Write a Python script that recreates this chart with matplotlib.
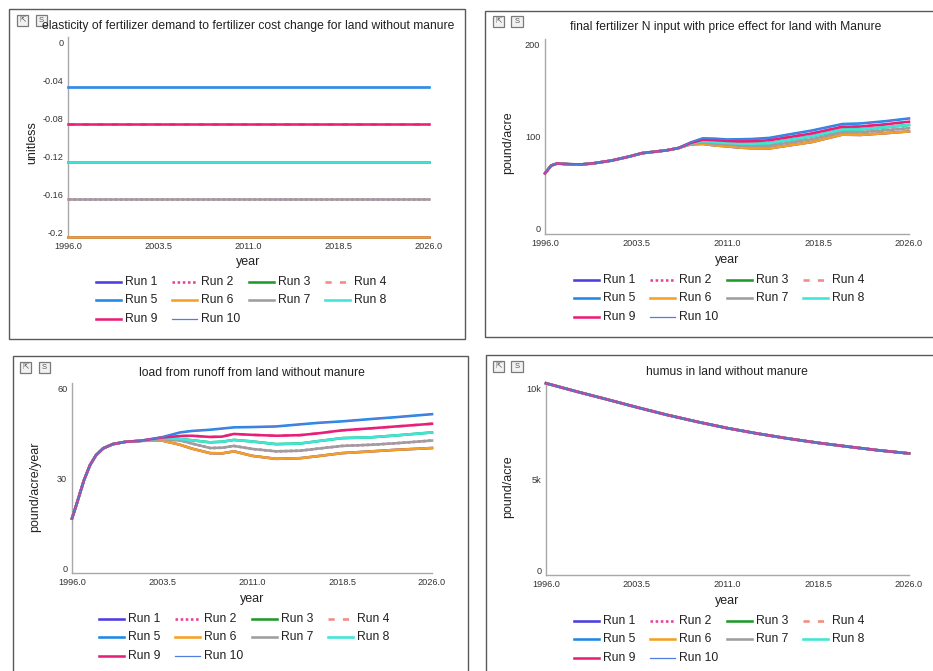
"""Four sensitivity-run panels for the fertilizer / runoff model."""

import matplotlib

matplotlib.use("Agg")
import matplotlib.pyplot as plt
import matplotlib.transforms as mtransforms
from matplotlib.lines import Line2D
from matplotlib.patches import Rectangle

plt.rcParams["font.family"] = ["Liberation Sans", "DejaVu Sans"]

W, H = 933, 671

RUN_NAMES = [f"Run {i}" for i in range(1, 11)]
RUN_COLORS = ["#4b3ddf", "#e8409a", "#1f9a2a", "#f28b82", "#1e88e5",
              "#f5a023", "#9e9e9e", "#3ee6d8", "#e91e7a", "#4f7fe0"]
RUN_STYLES = ["-", (0, (1, 1)), "-", (0, (2.4, 3.2)), "-", "-", "-", "-", "-", "-"]
RUN_WIDTHS = [1.85] * 9 + [0.9]
# runs 1-4 and 10 are hidden under the visible runs they repeat
RUN_SOURCE = {1: 6, 2: 7, 3: 8, 4: 9, 5: 5, 6: 6, 7: 7, 8: 8, 9: 9, 10: 5}

X_TICKS = [1996.0, 2003.5, 2011.0, 2018.5, 2026.0]

# elasticity of fertilizer demand (constant per run)
years_elast = [1996.0, 2026.0]
elast_run5 = [-0.042, -0.042]
elast_run6 = [-0.2, -0.2]
elast_run7 = [-0.16, -0.16]
elast_run8 = [-0.121, -0.121]
elast_run9 = [-0.081, -0.081]

# final fertilizer N input with price effect, land with manure
years_fert = [1996, 1996.5, 1997, 1998, 1999, 2000, 2001.5, 2003, 2004, 2005, 2006, 2007,
              2008, 2009, 2010, 2011, 2012, 2013, 2014.5, 2016, 2018, 2020.5, 2022, 2024, 2026]
fert_shared = [65.6, 74.0, 76.3, 75.5, 75.3, 76.5, 79.5, 84.0, 87.5, 89.0, 90.5, 93.0]
fert_run5 = fert_shared + [99.0, 103.5, 103.2, 102.3, 102.5, 102.8, 104.0, 107.5, 112.0, 119.0, 119.6, 122.0, 125.0]
fert_run9 = fert_shared + [98.5, 102.0, 101.5, 100.7, 100.2, 100.3, 101.4, 104.6, 108.8, 116.0, 116.3, 118.6, 121.5]
fert_run8 = fert_shared + [98.0, 100.5, 99.5, 98.6, 97.8, 97.5, 98.2, 101.5, 105.7, 113.0, 113.2, 115.4, 118.0]
fert_run7 = fert_shared + [97.5, 99.0, 97.6, 96.8, 95.8, 95.2, 95.5, 98.6, 102.6, 110.3, 110.2, 112.2, 114.5]
fert_run6 = fert_shared + [97.0, 97.5, 95.8, 94.8, 93.5, 92.8, 92.6, 95.6, 99.5, 107.5, 107.2, 109.0, 111.0]

# load from runoff, land without manure
years_load = [1996, 1996.4, 1997, 1997.5, 1998, 1998.6, 1999.4, 2000.5, 2001.7,
              2003.5, 2005, 2006, 2007.5, 2008.5, 2009.5, 2011, 2013, 2015, 2016.5, 2018.5, 2021, 2023, 2026]
load_shared = [18.2, 23.2, 31.0, 36.0, 39.3, 41.6, 43.0, 43.8, 44.1]
load_run5 = load_shared + [45.3, 46.9, 47.4, 47.8, 48.2, 48.6, 48.7, 48.9, 49.6, 50.1, 50.6, 51.4, 52.0, 53.0]
load_run9 = load_shared + [45.2, 45.7, 45.8, 45.4, 45.5, 46.4, 46.1, 45.8, 46.0, 46.6, 47.6, 48.3, 48.9, 49.8]
load_run8 = load_shared + [45.0, 44.7, 44.3, 43.6, 43.8, 44.4, 43.9, 43.0, 43.2, 44.0, 45.0, 45.3, 45.9, 46.9]
load_run7 = load_shared + [44.7, 44.2, 43.2, 41.7, 41.8, 42.4, 41.4, 40.6, 40.8, 41.5, 42.4, 42.8, 43.3, 44.2]
load_run6 = load_shared + [44.2, 42.8, 41.5, 40.0, 39.9, 40.6, 39.1, 38.1, 38.3, 39.0, 40.0, 40.6, 41.1, 41.7]

# humus in land without manure (same for every run)
years_humus = [1996, 1998.5, 2001, 2003.5, 2006, 2008.5, 2011, 2013.5, 2016, 2018.5, 2021, 2023.5, 2026]
humus = [10550, 10100, 9670, 9230, 8810, 8430, 8080, 7780, 7510, 7270, 7060, 6860, 6690]


def fx(x):
    return x / W


def fy(y):
    return 1 - y / H


def runs_from(years, by_run):
    return {i: (years, by_run[RUN_SOURCE[i]]) for i in range(1, 11)}


panels = [
    dict(
        title="elasticity of fertilizer demand to fertilizer cost change for land without manure",
        ylabel="unitless",
        runs=runs_from(years_elast, {5: elast_run5, 6: elast_run6, 7: elast_run7, 8: elast_run8, 9: elast_run9}),
        yticks=[0, -0.04, -0.08, -0.12, -0.16, -0.2],
        yticklabels=["0", "-0.04", "-0.08", "-0.12", "-0.16", "-0.2"],
        ylim=(-0.2, 0.011),
        box=(9, 9, 465, 339), axes=(68, 37, 429, 237),
        title_xy=(248, 26), xlabel_xy=(248, 262), ylabel_xy=(32, 143),
        legend_xy=(96, 282), icons_xy=(17, 15),
    ),
    dict(
        title="final fertilizer N input with price effect for land with Manure",
        ylabel="pound/acre",
        runs=runs_from(years_fert, {5: fert_run5, 6: fert_run6, 7: fert_run7, 8: fert_run8, 9: fert_run9}),
        yticks=[0, 100, 200], yticklabels=["0", "100", "200"],
        ylim=(0, 211),
        box=(485, 11, 945, 337), axes=(545, 39, 909, 234),
        title_xy=(726, 27), xlabel_xy=(727, 260), ylabel_xy=(508, 143),
        legend_xy=(574, 280), icons_xy=(493, 16),
    ),
    dict(
        title="load from runoff from land without manure",
        ylabel="pound/acre/year",
        runs=runs_from(years_load, {5: load_run5, 6: load_run6, 7: load_run7, 8: load_run8, 9: load_run9}),
        yticks=[0, 30, 60], yticklabels=["0", "30", "60"],
        ylim=(0, 63.4),
        box=(13, 356, 468, 690), axes=(72, 383, 432, 573),
        title_xy=(252, 373), xlabel_xy=(252, 599), ylabel_xy=(35, 487),
        legend_xy=(99, 619), icons_xy=(20, 362),
    ),
    dict(
        title="humus in land without manure",
        ylabel="pound/acre",
        runs={i: (years_humus, humus) for i in range(1, 11)},
        yticks=[0, 5000, 10000], yticklabels=["0", "5k", "10k"],
        ylim=(0, 10620),
        box=(486, 355, 945, 690), axes=(546, 382, 909, 575),
        title_xy=(727, 372), xlabel_xy=(727, 601), ylabel_xy=(508, 487),
        legend_xy=(574, 621), icons_xy=(493, 361),
    ),
]


def draw_icons(fig, x, y):
    for k, glyph in enumerate(["⇱", "S"]):
        left = x + k * 18.5
        fig.add_artist(Rectangle((fx(left), fy(y + 11)), 11 / W, 11 / H, transform=fig.transFigure,
                                 facecolor="#f2f2f2", edgecolor="#7a7a7a", linewidth=0.9))
        fig.text(fx(left + 5.5), fy(y + 5.5), glyph, fontsize=5.5, color="#555555",
                 ha="center", va="center")


def draw_legend(fig, x0, y0):
    for idx in range(10):
        row, col = divmod(idx, 4)
        x = x0 + col * 76.3
        y = y0 + row * 18.3
        fig.add_artist(Line2D([fx(x), fx(x + 25)], [fy(y), fy(y)], transform=fig.transFigure,
                              color=RUN_COLORS[idx], linestyle=RUN_STYLES[idx], linewidth=RUN_WIDTHS[idx]))
        fig.text(fx(x + 29), fy(y), RUN_NAMES[idx], fontsize=8.7, color="#222222", ha="left", va="center")


fig = plt.figure(figsize=(W / 100, H / 100), dpi=100)

for panel in panels:
    bx0, by0, bx1, by1 = panel["box"]
    fig.add_artist(Rectangle((fx(bx0), fy(by1)), (bx1 - bx0) / W, (by1 - by0) / H, transform=fig.transFigure,
                             facecolor="none", edgecolor="#5a5a5a", linewidth=1.0))

    left, top, right, bottom = panel["axes"]
    ax = fig.add_axes([fx(left), fy(bottom), (right - left) / W, (bottom - top) / H])
    for i in range(1, 11):
        years, values = panel["runs"][i]
        ax.plot(years, values, color=RUN_COLORS[i - 1], linestyle=RUN_STYLES[i - 1],
                linewidth=RUN_WIDTHS[i - 1], clip_on=False, zorder=3 + i * 0.01)

    ax.set_xlim(1996, 2026)
    ax.set_ylim(*panel["ylim"])
    ax.set_xticks(X_TICKS)
    ax.set_xticklabels([f"{t:.1f}" for t in X_TICKS])
    ax.set_yticks(panel["yticks"])
    ax.set_yticklabels(panel["yticklabels"])
    ax.tick_params(length=0, labelsize=6.6, labelcolor="#333333", pad=3.4)
    for side in ("top", "right"):
        ax.spines[side].set_visible(False)
    for side in ("left", "bottom"):
        ax.spines[side].set_color("#a8a8a8")
        ax.spines[side].set_linewidth(1.0)
    ax.patch.set_alpha(0)
    shift = mtransforms.ScaledTranslation(0, 5 / 100, fig.dpi_scale_trans)
    for label in ax.get_yticklabels():
        label.set_transform(label.get_transform() + shift)

    tx, ty = panel["title_xy"]
    fig.text(fx(tx), fy(ty), panel["title"], fontsize=8.7, color="#222222", ha="center", va="center")
    lx, ly = panel["xlabel_xy"]
    fig.text(fx(lx), fy(ly), "year", fontsize=9, color="#222222", ha="center", va="center")
    yx, yy = panel["ylabel_xy"]
    fig.text(fx(yx), fy(yy), panel["ylabel"], fontsize=9, color="#222222", ha="center", va="center",
             rotation=90)

    draw_legend(fig, *panel["legend_xy"])
    draw_icons(fig, *panel["icons_xy"])

fig.savefig("out.png", dpi=100)
plt.close(fig)
